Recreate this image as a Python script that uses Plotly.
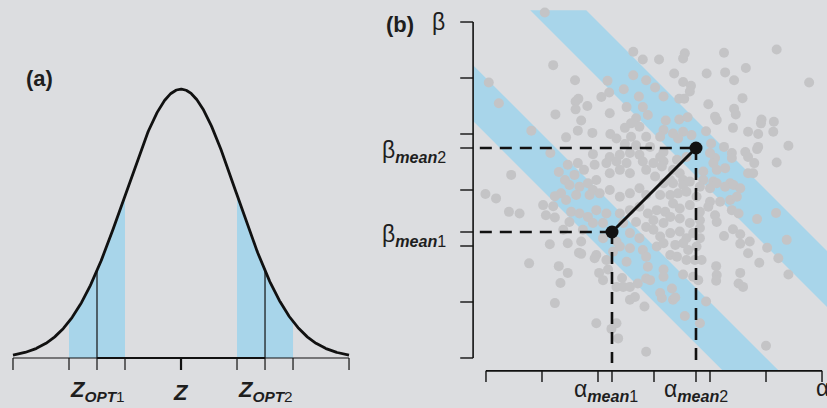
import numpy as np
import plotly.graph_objects as go

# ---------------- Panel (a) data ----------------
Z_MEAN = 0.0
Z_SD = 1.0
Z_RANGE = (-3.0, 3.0)
Z_TICKS = [-3, -2, -1.5, -1, 0, 1, 1.5, 2, 3]
Z_OPT = [-1.5, 1.5]
Z_SHADE = [(-2.0, -1.0), (1.0, 2.0)]
Z_LABEL_POS = [-1.5, 0.0, 1.5]
Z_LABEL_TEXT = [
    "<b><i>Z</i></b><sub><b><i>OPT</i></b>1</sub>",
    "<b><i>Z</i></b>",
    "<b><i>Z</i></b><sub><b><i>OPT</i></b>2</sub>",
]

# ---------------- Panel (b) data ----------------
ALPHA_TICKS = [0, 1, 2, 3, 4, 5, 6]
BETA_TICKS = [0, 1, 2, 3, 4, 5, 6]
ALPHA_MEANS = [2.25, 3.75]
BETA_MEANS = [2.25, 3.75]
BAND_SUMS = [(4.0, 5.0), (7.0, 8.0)]
ALPHA_LABELS = ["α<sub><b><i>mean</i></b>1</sub>", "α<sub><b><i>mean</i></b>2</sub>", "α"]
BETA_LABELS = ["β<sub><b><i>mean</i></b>1</sub>", "β<sub><b><i>mean</i></b>2</sub>", "β"]

pts_alpha = [
    1.05, 2.63, 2.80, 1.20, 0.05, 1.59, 2.17, 2.63, 2.86, 2.46, 2.20, 2.73, 2.06, 1.65, 1.60, 0.23,
    1.81, 2.51, 2.80, 1.60, 2.21, 1.24, 1.70, 2.68, 2.59, 2.89, 2.48, 2.74, 0.81, 1.64, 1.90, 2.22,
    1.43, 2.33, 2.59, 2.86, 2.48, 2.68, 1.15, 1.91, 2.21, 2.39, 2.57, 2.74, 1.64, 1.94, 2.15, 2.33,
    2.51, 2.80, 1.46, 1.30, 1.75, 0.45, 1.58, 2.21, 2.39, 2.57, 2.86, 1.97, 1.41,
    5.19, 3.55, 3.52, 4.25, 3.09, 4.64, 3.36, 3.94, 4.27, 4.43, 5.77, 3.52, 3.66, 3.64, 3.02, 3.17,
    3.45, 3.54, 4.58, 3.97, 4.43, 4.46, 4.09, 4.12, 4.92, 4.91, 5.14, 3.21, 3.45, 3.60, 4.41, 4.68,
    4.86, 5.13, 3.93, 3.17, 3.34, 3.52, 3.67, 3.11, 3.43, 4.02, 4.25, 4.39, 4.86, 4.84, 5.40, 4.63,
    4.68, 4.00, 4.09, 4.06, 4.39, 4.79, 5.19, 4.27, 3.88, 4.12, 4.68, 4.77, 3.17, 3.11, 3.41, 3.58,
    2.99, 3.14, 3.34, 3.46, 2.93, 3.17, 3.02, 3.29, 3.52, 3.88, 4.06, 4.36,
    -0.01, 0.18, 0.41, 0.60, 1.02, 1.20, 1.07, 1.23, 1.23, 1.34, 1.49, 1.67, 1.82, 1.91, 1.43, 1.61,
    1.85, 2.03, 2.21, 2.39, 2.57, 2.74, 2.86, 1.52, 1.67, 1.82, 1.97, 2.15, 2.39, 2.57, 2.74, 2.89,
    1.49, 1.38, 1.73, 1.91, 2.09, 2.45, 2.68, 2.86, 2.57, 2.74, 1.14, 1.46, 1.70, 2.09, 2.33, 2.39,
    1.66, 1.70, 1.97, 1.94, 2.15, 2.27, 2.57, 2.80, 2.86, 2.51, 0.77, 1.30, 1.46, 2.18, 2.89, 2.86,
    2.02, 2.09, 1.33, 2.43, 2.33, 2.45, 2.57, 2.71, 2.66, 2.57, 2.83, 1.23, 1.97, 2.24, 2.33, 2.36,
    2.86,
    3.17, 3.34, 3.52, 3.64, 3.82, 4.00, 4.12, 4.27, 4.42, 4.54, 3.11, 3.29, 3.43, 3.58, 3.76, 4.00,
    4.18, 4.36, 4.48, 3.05, 3.20, 3.34, 3.46, 3.64, 3.82, 3.97, 4.39, 4.51, 2.99, 3.17, 3.29, 3.46,
    3.64, 3.82, 4.09, 4.12, 4.84, 5.18, 2.99, 3.11, 3.29, 3.46, 3.58, 3.70, 3.82, 4.25, 4.41, 4.54,
    4.71, 4.54, 5.02, 5.37, 3.05, 3.17, 3.38, 3.52, 3.61, 3.76, 3.82, 4.68, 5.22, 4.88, 3.29, 3.41,
    3.58, 3.73, 3.85, 4.11, 4.12, 4.11, 4.54, 4.51, 4.59, 5.40, 3.17, 3.17, 3.52, 3.70, 3.79, 2.93,
    3.11, 3.14, 3.32, 3.34, 3.38, 3.93, 3.55, 3.82, 5.00,
]
pts_beta = [
    6.17, 5.47, 5.33, 5.23, 4.92, 4.96, 4.95, 5.05, 4.96, 4.80, 4.74, 4.67, 4.66, 4.63, 4.58, 4.55,
    4.50, 4.48, 4.48, 4.44, 4.37, 4.35, 4.24, 4.28, 4.19, 4.34, 4.11, 4.13, 4.06, 4.06, 4.02, 4.00,
    3.94, 3.92, 3.95, 3.95, 3.82, 3.80, 3.66, 3.64, 3.59, 3.63, 3.66, 3.63, 3.48, 3.45, 3.48, 3.51,
    3.48, 3.51, 3.45, 3.32, 3.36, 3.27, 3.27, 3.30, 3.36, 3.30, 3.36, 3.18, 3.18,
    5.51, 5.44, 5.35, 5.45, 5.33, 5.18, 5.08, 5.08, 5.10, 4.96, 4.92, 4.93, 4.86, 4.76, 4.83, 4.67,
    4.63, 4.63, 4.64, 4.53, 4.45, 4.35, 4.31, 4.25, 4.26, 4.19, 4.22, 4.24, 4.26, 4.30, 4.11, 4.04,
    4.00, 4.04, 4.05, 4.07, 4.01, 4.04, 3.98, 3.95, 3.92, 3.83, 3.77, 3.66, 3.77, 3.73, 3.79, 3.68,
    3.59, 3.66, 3.57, 3.48, 3.57, 3.48, 3.49, 3.39, 3.33, 3.36, 3.30, 3.30, 3.51, 3.59, 3.54, 3.59,
    3.48, 3.42, 3.36, 3.30, 3.77, 3.68, 3.24, 3.18, 3.18, 3.18, 3.15, 3.12,
    2.93, 2.85, 2.61, 2.58, 2.73, 2.71, 2.55, 2.51, 2.89, 2.94, 3.09, 3.06, 3.12, 3.00, 2.82, 2.91,
    2.91, 2.94, 3.00, 2.88, 2.94, 3.03, 2.91, 2.61, 2.58, 2.52, 2.64, 2.58, 2.58, 2.64, 2.70, 2.58,
    2.43, 2.29, 2.29, 2.41, 2.41, 2.41, 2.43, 2.34, 2.23, 2.14, 2.03, 2.05, 2.08, 2.14, 2.08, 1.99,
    1.88, 1.86, 1.84, 1.78, 1.75, 1.90, 1.96, 1.93, 1.81, 1.72, 1.69, 1.64, 1.52, 1.58, 1.63, 1.42,
    1.52, 1.39, 1.34, 1.43, 1.27, 1.27, 1.27, 1.33, 1.09, 1.04, 0.92, 0.98, 0.62, 0.52, 0.62, 0.35,
    0.11,
    3.12, 3.12, 3.09, 3.15, 3.06, 3.03, 3.12, 3.06, 3.09, 3.03, 2.91, 2.91, 2.94, 2.97, 2.88, 2.79,
    2.79, 2.82, 2.88, 2.64, 2.61, 2.76, 2.67, 2.73, 2.61, 2.70, 2.64, 2.58, 2.46, 2.41, 2.52, 2.49,
    2.41, 2.46, 2.55, 2.43, 2.48, 2.59, 2.29, 2.17, 2.23, 2.26, 2.14, 2.23, 2.32, 2.18, 2.30, 2.21,
    2.08, 2.04, 1.97, 2.11, 1.99, 2.05, 2.02, 2.05, 1.93, 1.99, 2.14, 1.87, 1.78, 1.70, 1.84, 1.81,
    1.75, 1.75, 1.75, 1.64, 1.48, 1.38, 1.52, 1.33, 1.27, 1.49, 1.58, 1.45, 1.49, 1.45, 1.39, 1.39,
    1.16, 1.07, 1.24, 1.04, 1.08, 1.01, 0.75, 0.62, 0.22,
]

# ---------------- Style ----------------
BG = "#dcdde0"
BLUE = "#a8d5ea"
DOT = "#c4c4c6"
INK = "#111111"
TXT = "#1e1e1e"
FONT = "Liberation Sans, Arial, Helvetica, sans-serif"

W, H = 827, 408
# panel (a) geometry
A_DOM = [0.0, 360 / W]
A_XR = [-3.232, 3.196]
A_YR = [-0.0742, 0.5312]
A_TICK = 0.0178
# panel (b) geometry
B_DOM = [440 / W, 1.0]
B_XR = [-0.821, 6.089]
B_YR = [-0.893, 6.393]
AX_OFF = -0.23        # offset of the detached axes
B_TICK_Y = 0.23
B_TICK_X = 0.20
BAND_BOX = (AX_OFF, 6.3, AX_OFF, 6.21)


def pdf(z):
    return np.exp(-0.5 * ((z - Z_MEAN) / Z_SD) ** 2) / (Z_SD * np.sqrt(2 * np.pi))


def clip_half(poly, a, b, c):
    """keep a*x + b*y <= c"""
    out = []
    n = len(poly)
    for i in range(n):
        p, q = poly[i], poly[(i + 1) % n]
        fp = a * p[0] + b * p[1] - c
        fq = a * q[0] + b * q[1] - c
        if fp <= 0:
            out.append(p)
        if fp * fq < 0:
            t = fp / (fp - fq)
            out.append((p[0] + t * (q[0] - p[0]), p[1] + t * (q[1] - p[1])))
    return out


fig = go.Figure()

# ---------- Panel (a) ----------
zz = np.linspace(Z_RANGE[0], Z_RANGE[1], 601)
for lo, hi in Z_SHADE:
    zs = np.linspace(lo, hi, 120)
    fig.add_trace(go.Scatter(x=np.r_[zs, hi, lo], y=np.r_[pdf(zs), 0, 0], fill="toself",
                             fillcolor=BLUE, line=dict(width=0), mode="lines",
                             xaxis="x", yaxis="y", hoverinfo="skip"))
for zo in Z_OPT:
    fig.add_trace(go.Scatter(x=[zo, zo], y=[0, pdf(zo)], mode="lines",
                             line=dict(color=INK, width=1.2), xaxis="x", yaxis="y"))
fig.add_trace(go.Scatter(x=zz, y=pdf(zz), mode="lines", line=dict(color=INK, width=2.8),
                         xaxis="x", yaxis="y"))
# baseline axis
fig.add_trace(go.Scatter(x=[Z_RANGE[0], Z_RANGE[1]], y=[0, 0], mode="lines",
                         line=dict(color=INK, width=1.2), xaxis="x", yaxis="y"))
fig.add_trace(go.Scatter(x=[Z_OPT[0], Z_OPT[1]], y=[0, 0], mode="lines",
                         line=dict(color=INK, width=2.2), xaxis="x", yaxis="y"))
for t in Z_TICKS:
    fig.add_trace(go.Scatter(x=[t, t], y=[0, -A_TICK], mode="lines",
                             line=dict(color=INK, width=2.2 if t == Z_MEAN else 1.2),
                             xaxis="x", yaxis="y"))

# ---------- Panel (b) ----------
x0, x1, y0, y1 = BAND_BOX
for lo, hi in BAND_SUMS:
    poly = [(x0, y0), (x1, y0), (x1, y1), (x0, y1)]
    poly = clip_half(poly, -1, -1, -lo)
    poly = clip_half(poly, 1, 1, hi)
    xs = [p[0] for p in poly] + [poly[0][0]]
    ys = [p[1] for p in poly] + [poly[0][1]]
    fig.add_trace(go.Scatter(x=xs, y=ys, fill="toself", fillcolor=BLUE, line=dict(width=0),
                             mode="lines", xaxis="x2", yaxis="y2", hoverinfo="skip"))

fig.add_trace(go.Scatter(x=pts_alpha, y=pts_beta, mode="markers",
                         marker=dict(color=DOT, size=10, line=dict(width=0)),
                         xaxis="x2", yaxis="y2"))

DASH = "12px,8px"
for a, b in zip(ALPHA_MEANS, BETA_MEANS):
    fig.add_trace(go.Scatter(x=[-0.11, a], y=[b, b], mode="lines",
                             line=dict(color=INK, width=2.6, dash=DASH), xaxis="x2", yaxis="y2"))
    fig.add_trace(go.Scatter(x=[a, a], y=[b, -0.09], mode="lines",
                             line=dict(color=INK, width=2.6, dash=DASH), xaxis="x2", yaxis="y2"))
fig.add_trace(go.Scatter(x=ALPHA_MEANS, y=BETA_MEANS, mode="lines+markers",
                         line=dict(color=INK, width=3), marker=dict(color=INK, size=13),
                         xaxis="x2", yaxis="y2"))

# detached axes
fig.add_trace(go.Scatter(x=[AX_OFF, AX_OFF], y=[BETA_TICKS[0], BETA_TICKS[-1]], mode="lines",
                         line=dict(color=INK, width=1.6), xaxis="x2", yaxis="y2"))
fig.add_trace(go.Scatter(x=[ALPHA_TICKS[0], ALPHA_TICKS[-1]], y=[AX_OFF, AX_OFF], mode="lines",
                         line=dict(color=INK, width=1.6), xaxis="x2", yaxis="y2"))
for t in BETA_TICKS + BETA_MEANS:
    fig.add_trace(go.Scatter(x=[AX_OFF, AX_OFF - B_TICK_Y], y=[t, t], mode="lines",
                             line=dict(color=INK, width=1.4), xaxis="x2", yaxis="y2"))
for t in ALPHA_TICKS + ALPHA_MEANS:
    fig.add_trace(go.Scatter(x=[t, t], y=[AX_OFF, AX_OFF - B_TICK_X], mode="lines",
                             line=dict(color=INK, width=1.4), xaxis="x2", yaxis="y2"))

ann = []
# panel letters
ann.append(dict(text="<b>(a)</b>", xref="paper", yref="paper", x=39.5 / W, y=1 - 79 / H,
                xanchor="center", yanchor="middle", font=dict(size=22)))
ann.append(dict(text="<b>(b)</b>", xref="paper", yref="paper", x=400 / W, y=1 - 24 / H,
                xanchor="center", yanchor="middle", font=dict(size=22)))
# Z labels
for zp, txt in zip(Z_LABEL_POS, Z_LABEL_TEXT):
    ann.append(dict(text=txt, xref="x", yref="paper", x=zp, y=0.0, yshift=1,
                    xanchor="center", yanchor="bottom", font=dict(size=22)))
# beta labels
for b, txt in zip(BETA_MEANS + [BETA_TICKS[-1]], BETA_LABELS):
    ann.append(dict(text=txt, xref="x2", yref="y2", x=AX_OFF - B_TICK_Y, y=b,
                    xanchor="right", yanchor="middle", xshift=-12 if txt != "β" else -13,
                    yshift=-3 if txt != "β" else 0, font=dict(size=23)))
# alpha labels
for a, txt, xs_ in zip(ALPHA_MEANS + [ALPHA_TICKS[-1]], ALPHA_LABELS, [-6, 0, 0]):
    ann.append(dict(text=txt, xref="x2", yref="paper", x=a, y=0.0, xshift=xs_,
                    xanchor="center", yanchor="bottom", yshift=1 if txt != "α" else 5,
                    font=dict(size=23)))

for a_ in ann:
    a_["showarrow"] = False
    a_["font"]["family"] = FONT
    a_["font"]["color"] = TXT

ax_common = dict(visible=False, showgrid=False, zeroline=False, fixedrange=True)
fig.update_layout(
    width=W, height=H, margin=dict(l=0, r=0, t=0, b=0),
    paper_bgcolor=BG, plot_bgcolor=BG, showlegend=False,
    xaxis=dict(domain=A_DOM, range=A_XR, **ax_common),
    yaxis=dict(domain=[0, 1], range=A_YR, **ax_common),
    xaxis2=dict(domain=B_DOM, range=B_XR, anchor="y2", **ax_common),
    yaxis2=dict(domain=[0, 1], range=B_YR, anchor="x2", **ax_common),
    annotations=ann,
    font=dict(family=FONT),
)

fig.write_html("out.html")
